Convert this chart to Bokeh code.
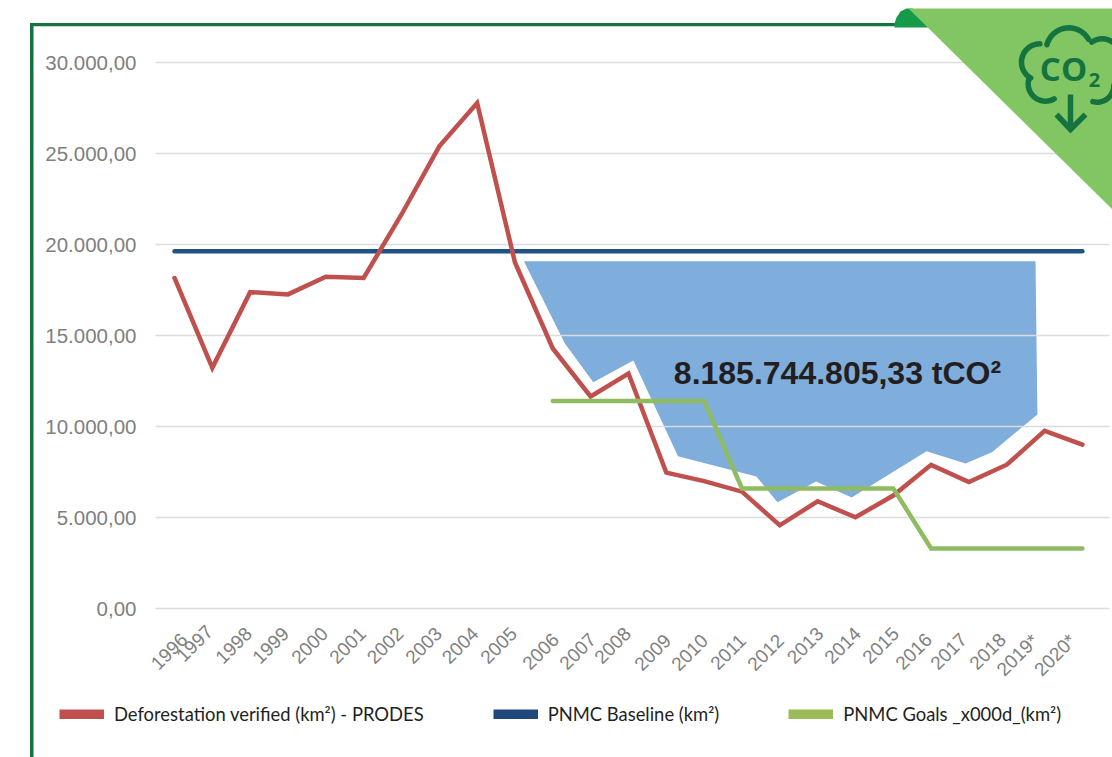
import numpy as np
from bokeh.plotting import figure
from bokeh.embed import file_html
from bokeh.resources import INLINE
from bokeh.core.properties import value
from bokeh.models import (ColumnDataSource, FixedTicker, Legend, LegendItem,
                          PolyAnnotation, Range1d)

# ---- data ----
years = ["1996","1997","1998","1999","2000","2001","2002","2003","2004","2005","2006","2007","2008",
         "2009","2010","2011","2012","2013","2014","2015","2016","2017","2018","2019*","2020*"]
deforestation = [18161,13227,17383,17259,18226,18165,21650,25396,27772,19014,14286,11651,12911,
                 7464,7000,6418,4571,5891,5012,6207,7893,6947,7900,9762,9000]
baseline = [19625]*25
goal_idx = [10,11,12,13,14,15,16,17,18,19,20,21,22,23,24]
goals = [11400,11400,11400,11400,11400,6600,6600,6600,6600,6600,3300,3300,3300,3300,3300]
shade_idx = [9.236,22.76,22.81,21.61,20.91,19.88,17.90,16.96,15.94,15.38,13.31,12.13,11.07,10.32]
shade_val = [19083,19083,10659,8588,7967,8643,6099,6978,5841,7253,8368,13626,12434,14560]
y_ticks = [0,5000,10000,15000,20000,25000,30000]
y_labels = ["0,00","5.000,00","10.000,00","15.000,00","20.000,00","25.000,00","30.000,00"]
annotation_text = "8.185.744.805,33 tCO\u00b2"
legend_labels = ["Deforestation verified (km\u00b2) - PRODES","PNMC Baseline (km\u00b2)","PNMC Goals _x000d_(km\u00b2)"]

# ---- canvas-pixel geometry ----
W, H = 1112, 757
X0, DX = 174.0, 37.83
Y0, PXY = 608.0, 546.0/30000
def X(px): return (np.asarray(px, float)-X0)/DX
def Y(py): return (Y0-np.asarray(py, float))/PXY
RED, BLUE, GREEN = "#C0504D", "#1F5385", "#8FBC63"
DARK, TAB, TRI = "#14733F", "#149A48", "#82C664"

p = figure(width=W, height=H, output_backend="svg", toolbar_location=None,
           x_range=Range1d(float(X(0)), float(X(W))), y_range=Range1d(float(Y(H)), float(Y(0))),
           min_border_left=0, min_border_right=0, min_border_top=0, min_border_bottom=0,
           x_axis_location=None, y_axis_location="left", outline_line_color=None)
ax = p.yaxis[0]
ax.fixed_location = float(X(155))
ax.ticker = FixedTicker(ticks=y_ticks)
ax.major_label_overrides = {t: s for t, s in zip(y_ticks, y_labels)}
ax.axis_line_color = None
ax.major_tick_line_color = None
ax.minor_tick_line_color = None
ax.major_label_standoff = 13
ax.major_label_text_font = "Liberation Sans"
ax.major_label_text_font_size = "20.5px"
ax.major_label_text_color = "#808080"
p.xgrid.visible = False
p.ygrid.visible = False

idx = list(range(len(years)))
p.patch(shade_idx, shade_val, fill_color="#7FADDC", line_color=None, level="underlay")
p.segment(x0=[float(X(155))]*7, x1=[float(X(1109))]*7, y0=y_ticks, y1=y_ticks,
          line_color="#DCDCDC", line_width=1.5, level="underlay")
p.line(idx, baseline, line_color=BLUE, line_width=4.5, line_cap="round")
p.line(idx, deforestation, line_color=RED, line_width=4.5, line_join="miter", line_cap="round")
p.line(goal_idx, goals, line_color=GREEN, line_width=4.5, line_cap="round", line_join="miter")

p.text([float(X(837))], [float(Y(372))], text=[annotation_text], text_font=value("Liberation Sans"),
       text_font_style="bold", text_font_size="32px", text_color="#231F20",
       text_align="center", text_baseline="middle")

# tick labels (slightly uneven in the source)
ends = [187.5,213,252,289,328,366,403.6,442,478.6,517,559,596,631,671,708,746,784,823.6,861,899,932,967,1006,1038.6,1076]
tops = [633,625,627,627,627,627,627,627,627,627,633,633,627,634,634,634,634,627,627,627,633,633,633,634,634]
src = ColumnDataSource(dict(x=idx, y=[0]*25, t=years,
        xo=[e-4-(X0+DX*i) for i, e in enumerate(ends)], yo=[v+3-Y0 for v in tops]))
p.text("x", "y", text="t", source=src, x_offset="xo", y_offset="yo", angle=45, angle_units="deg",
       text_align="right", text_baseline="middle", text_font=value("Liberation Sans"),
       text_font_size="19px", text_color="#808080")

# legend
items = []
for lab, col in zip(legend_labels, ["#C0504D", "#1F497D", "#9BBB59"]):
    r = p.line(x=[-50, -49], y=[0, 0], line_color=col, line_width=10)
    items.append(LegendItem(label=lab, renderers=[r]))
leg = Legend(items=items, orientation="horizontal", location=(59, 32), spacing=69, glyph_width=45,
             glyph_height=10, label_standoff=10, padding=0, margin=0, background_fill_alpha=0,
             border_line_color=None, label_text_font="Lato", label_text_font_size="18.4px",
             label_text_color="#231F20", label_height=20)
p.add_layout(leg, "center")

# decoration in canvas pixels
def poly(pts, col):
    xs = [a for a, b in pts]; ys = [b for a, b in pts]
    p.add_layout(PolyAnnotation(xs=xs, ys=ys, xs_units="canvas", ys_units="canvas",
                                fill_color=col, fill_alpha=1, line_color=None))
poly([(29.5,22.5),(33,22.5),(33,757),(29.5,757)], DARK)
poly([(29.5,22.5),(930,22.5),(930,25.8),(29.5,25.8)], DARK)
poly([(894,23),(896,17),(900,11),(906,8),(912,8),(920,14),(928,27),(894,27)], TAB)
poly([(908,8),(1112,8),(1112,209)], TRI)

def arc(cx, cy, r, a0, a1):
    a = np.radians(np.linspace(a0, a1, 24))
    return 880+(cx+r*np.cos(a))/3, (cy+r*np.sin(a))/3
arcs = [(495,250,52,60,200),(478,185,55,120,270),(565,150,68,195,330),(665,170,55,235,360),
        (650,255,50,0,105)]
for a in arcs:
    ax_, ay_ = arc(*a)
    p.line(X(ax_).tolist(), Y(ay_).tolist(), line_color=DARK, line_width=5.5, line_cap="round", level="overlay")
p.line(X([1070,1070]).tolist(), Y([94,128]).tolist(), line_color=DARK, line_width=5.5, level="overlay")
p.line(X([1056,1070,1085]).tolist(), Y([114,129,114]).tolist(), line_color=DARK, line_width=5.5,
       line_join="miter", level="overlay")
p.text([float(X(1063))], [float(Y(68))], text=["CO"], text_font=value("Open Sans"), text_font_style="bold",
       text_font_size="33px", text_color=DARK, text_align="center", text_baseline="middle", level="overlay")
p.text([float(X(1094))], [float(Y(79))], text=["2"], text_font=value("Open Sans"), text_font_style="bold",
       text_font_size="20px", text_color=DARK, text_align="center", text_baseline="middle", level="overlay")

open("out.html", "w").write(file_html(p, INLINE))
